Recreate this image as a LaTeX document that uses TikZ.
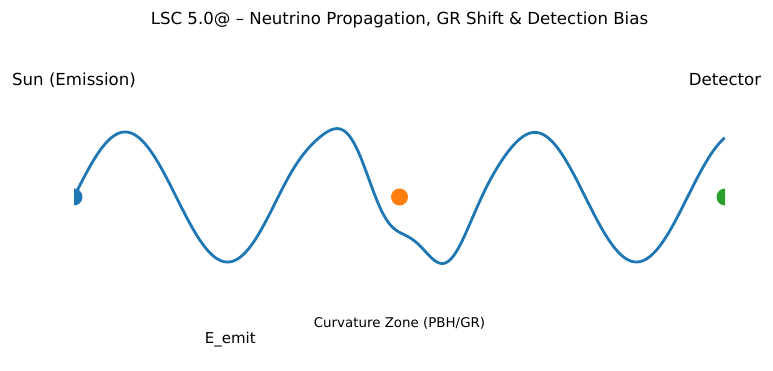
\documentclass[tikz,border=0pt]{standalone}
\usepackage{fontspec}
\setmainfont{DejaVu Sans}
\definecolor{tabblue}{HTML}{1F77B4}
\definecolor{taborange}{HTML}{FF7F0E}
\definecolor{tabgreen}{HTML}{2CA02C}
\tikzset{
  marker/.style={circle, inner sep=0pt, minimum size=17pt},
  lbl/.style={inner sep=0pt, text=black},
  bigfont/.style={font=\fontsize{16.6}{19}\selectfont},
}
\begin{document}
\begin{tikzpicture}[x=1pt,y=1pt]
\useasboundingbox[fill=white] (0,0) rectangle (773,371);
\node[lbl, bigfont] (title) at (399.5,351) {LSC 5.0@ – Neutrino Propagation, GR Shift \& Detection Bias};
\begin{scope}[shift={(74,174)}, x=65.1pt, y=65pt]
  \begin{scope}
    \clip (0,-3) rectangle (10,3);
    \draw[tabblue, line width=2.8pt, line join=round] plot[domain=0:10, samples=500, smooth, variable=\t]
      (\t, {sin(2*\t r) + 0.2*exp(-(\t-5)^2/1.3)*sin(5.6*(\t-5) r)});
    \node[marker, fill=tabblue] (sun) at (0,0) {};
    \node[marker, fill=taborange] (zone) at (5,0) {};
    \node[marker, fill=tabgreen] (det) at (10,0) {};
  \end{scope}
  \node[lbl, bigfont] (sunlbl) at (0,1.8) {Sun (Emission)};
  \node[lbl, bigfont] (detlbl) at (10,1.8) {Detector};
  \node[lbl, font=\fontsize{15}{17}\selectfont] (emit) at (2.4,-2.19) {E\_emit};
  \node[lbl, font=\fontsize{13.4}{15}\selectfont] (curv) at (5,-1.95) {Curvature Zone (PBH/GR)};
\end{scope}
\end{tikzpicture}
\end{document}
